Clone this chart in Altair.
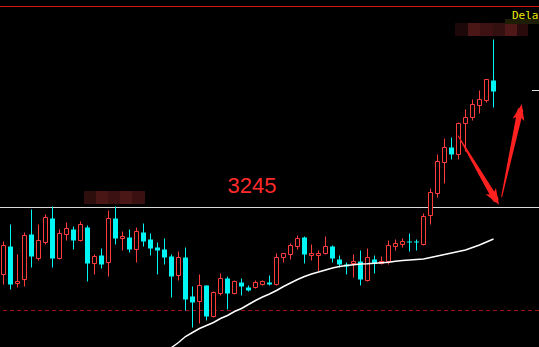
import altair as alt
import pandas as pd

# Daily OHLC, oldest first
opens = [3178, 3206, 3169, 3173, 3218, 3194, 3210, 3234, 3194, 3218,
         3223, 3212, 3225, 3189, 3197, 3190, 3234, 3214, 3215, 3203,
         3220, 3213, 3205, 3203, 3196, 3177, 3195, 3156, 3151, 3167,
         3136, 3159, 3174, 3159, 3170, 3165, 3165, 3168, 3170, 3168,
         3195, 3198, 3206, 3215, 3197, 3197, 3199, 3206, 3193, 3188,
         3189, 3191, 3172, 3193, 3189, 3191, 3206, 3208, 3211, 3211,
         3208, 3237, 3259, 3290, 3305, 3298, 3329, 3335, 3347, 3352,
         3372]
highs = [3211, 3228, 3198, 3220, 3243, 3228, 3238, 3246, 3223, 3230,
         3226, 3231, 3227, 3198, 3204, 3242, 3246, 3221, 3223, 3225,
         3229, 3219, 3210, 3214, 3198, 3201, 3205, 3166, 3178, 3167,
         3161, 3179, 3176, 3172, 3174, 3167, 3172, 3172, 3177, 3199,
         3199, 3209, 3217, 3216, 3208, 3202, 3216, 3207, 3197, 3190,
         3198, 3202, 3204, 3197, 3196, 3212, 3213, 3214, 3219, 3213,
         3239, 3264, 3298, 3314, 3315, 3330, 3343, 3353, 3362, 3373,
         3413]
lows = [3168, 3163, 3165, 3166, 3185, 3192, 3208, 3185, 3193, 3212,
        3203, 3211, 3171, 3178, 3184, 3176, 3208, 3202, 3200, 3190,
        3206, 3197, 3178, 3188, 3155, 3172, 3142, 3125, 3129, 3132,
        3135, 3157, 3143, 3158, 3157, 3161, 3164, 3167, 3167, 3167,
        3190, 3193, 3203, 3189, 3192, 3181, 3198, 3190, 3185, 3178,
        3175, 3167, 3171, 3179, 3188, 3188, 3202, 3205, 3201, 3202,
        3207, 3228, 3255, 3269, 3293, 3293, 3301, 3332, 3339, 3350,
        3345]
closes = [3207, 3168, 3171, 3217, 3196, 3212, 3235, 3194, 3219, 3224,
          3212, 3228, 3189, 3196, 3188, 3234, 3214, 3216, 3203, 3221,
          3211, 3204, 3202, 3195, 3176, 3195, 3153, 3150, 3167, 3136,
          3160, 3174, 3159, 3171, 3166, 3162, 3170, 3171, 3168, 3195,
          3199, 3207, 3214, 3198, 3199, 3199, 3206, 3194, 3188, 3186,
          3191, 3173, 3195, 3189, 3191, 3207, 3209, 3211, 3210, 3210,
          3236, 3260, 3291, 3305, 3298, 3329, 3335, 3348, 3353, 3373,
          3361]

# Moving average, available from bar 23 onward
ma_first = 23
ma_values = [3100.5, 3105, 3110, 3116, 3120, 3124, 3127, 3130, 3134, 3137,
             3141, 3144, 3148, 3152, 3155.5, 3158.5, 3162, 3166, 3169.5, 3173,
             3176, 3178.5, 3180.5, 3182.5, 3184.5, 3186, 3187, 3187.7, 3188.5, 3188.7,
             3189.2, 3189.7, 3190.3, 3191.2, 3192, 3192.5, 3193, 3193.5, 3195, 3196.5,
             3198, 3199.5, 3201, 3202.5, 3205, 3207.5, 3210.5, 3213.5]

# Horizontal price levels
level_price = 3245
top_price = 3446
stop_price = 3142
last_mark_price = 3362

# Hand-drawn arrows: shaft start/end (bar index, price) and head angle
arrow_ids = ["down", "down", "up", "up"]
arrow_i = [64.97, 70.27, 71.17, 73.81]
arrow_p = [3316.5, 3253.5, 3255.8, 3341.4]
arrow_w = [1, 6, 1, 6]
head_i = [70.2, 73.8]
head_p = [3254.5, 3340.5]
head_angle = [149, 12]

# Masked label patches (bar index span, price span, shade)
patch_i0 = [11.5, 13.21, 14.93, 16.64, 18.36, 64.5, 66.36, 68.07, 69.93, 71.64, 73.36, 71.64]
patch_i1 = [13.21, 14.93, 16.64, 18.36, 20.21, 66.36, 68.07, 69.93, 71.64, 73.36, 74.93, 76.5]
patch_p0 = [3248.5] * 5 + [3416.5] * 6 + [3428.5]
patch_p1 = [3261.5] * 5 + [3429.5] * 6 + [3433.5]
patch_c = ["#2e0d0d", "#4a1515", "#3c1111", "#4a1616", "#3a1010",
           "#1c0808", "#4a1616", "#3e1212", "#351010", "#4f1818", "#2a0b0b",
           "#1e1e05"]

RED = "#ff3c3c"
CYAN = "#00f5f5"

xscale = alt.Scale(domain=[-0.5, 76.5], zero=False, nice=False, padding=0)
yscale = alt.Scale(domain=[3105.5, 3452.5], zero=False, nice=False, padding=0)

n = len(opens)
candles = pd.DataFrame({"i": list(range(n)), "open": opens, "high": highs,
                        "low": lows, "close": closes})
candles["dir"] = ["up" if c >= o else "down" for o, c in zip(opens, closes)]

ma = pd.DataFrame({"i": list(range(ma_first, ma_first + len(ma_values))), "ma": ma_values})

X = alt.X("i:Q", scale=xscale, axis=None)

patches = alt.Chart(pd.DataFrame({"i0": patch_i0, "i1": patch_i1, "p0": patch_p0,
                                  "p1": patch_p1, "c": patch_c})).mark_rect().encode(
    x=alt.X("i0:Q", scale=xscale, axis=None), x2="i1:Q",
    y=alt.Y("p0:Q", scale=yscale, axis=None), y2="p1:Q",
    color=alt.Color("c:N", scale=None),
)

white_line = alt.Chart(pd.DataFrame({"p": [level_price]})).mark_rule(
    color="#d9d9d9", strokeWidth=1).encode(y=alt.Y("p:Q", scale=yscale, axis=None))
top_line = alt.Chart(pd.DataFrame({"p": [top_price]})).mark_rule(
    color="#d41515", strokeWidth=1).encode(y=alt.Y("p:Q", scale=yscale, axis=None))
stop_line = alt.Chart(pd.DataFrame({"p": [stop_price]})).mark_rule(
    color="#a01010", strokeWidth=1, strokeDash=[4, 3]).encode(
    y=alt.Y("p:Q", scale=yscale, axis=None))
last_tick = alt.Chart(pd.DataFrame({"i0": [75.5], "i1": [76.5], "p": [last_mark_price]})).mark_rule(
    color="#e0e0e0", strokeWidth=1).encode(
    x=alt.X("i0:Q", scale=xscale, axis=None), x2="i1:Q",
    y=alt.Y("p:Q", scale=yscale, axis=None))

base = alt.Chart(candles)
wicks = base.mark_rule(strokeWidth=1).encode(
    x=X,
    y=alt.Y("high:Q", scale=yscale, axis=None), y2="low:Q",
    color=alt.Color("dir:N", scale=alt.Scale(domain=["up", "down"], range=[RED, CYAN]), legend=None),
)
up_bodies = base.transform_filter("datum.dir == 'up'").mark_bar(
    size=4, fill="black", stroke=RED, strokeWidth=1).encode(
    x=X, y=alt.Y("open:Q", scale=yscale, axis=None), y2="close:Q")
down_bodies = base.transform_filter("datum.dir == 'down'").mark_bar(
    size=5, color=CYAN).encode(
    x=X, y=alt.Y("open:Q", scale=yscale, axis=None), y2="close:Q")

ma_line = alt.Chart(ma).mark_line(color="white", strokeWidth=1.5, clip=True).encode(
    x=X, y=alt.Y("ma:Q", scale=yscale, axis=None))

shafts = alt.Chart(pd.DataFrame({"a": arrow_ids, "i": arrow_i, "p": arrow_p, "w": arrow_w})).mark_trail(
    color="#ff2020").encode(
    x=X, y=alt.Y("p:Q", scale=yscale, axis=None),
    size=alt.Size("w:Q", scale=None, legend=None), detail="a:N")
heads = alt.Chart(pd.DataFrame({"i": head_i, "p": head_p, "ang": head_angle})).mark_point(
    shape="M0,-1L0.75,1L0,0.5L-0.75,1Z", filled=True, size=256, color="#ff2020", opacity=1).encode(
    x=X, y=alt.Y("p:Q", scale=yscale, axis=None), angle=alt.Angle("ang:Q", scale=None))

level_text = alt.Chart(pd.DataFrame({"i": [35.5], "p": [3259.5], "t": [str(level_price)]})).mark_text(
    font="Liberation Sans", fontSize=22, color="#ff2b2b", align="center", baseline="alphabetic").encode(
    x=X, y=alt.Y("p:Q", scale=yscale, axis=None), text="t:N")
delay_text = alt.Chart(pd.DataFrame({"i": [72.64], "p": [3433.5], "t": ["Delay"]})).mark_text(
    font="DejaVu Sans Mono", fontSize=11, color="#eaea00", align="left", baseline="alphabetic").encode(
    x=X, y=alt.Y("p:Q", scale=yscale, axis=None), text="t:N")

chart = alt.layer(
    patches, white_line, top_line, stop_line, last_tick,
    wicks, up_bodies, down_bodies, ma_line,
    shafts, heads, level_text, delay_text,
).properties(
    width=539, height=347, background="black", padding=0,
    autosize=alt.AutoSizeParams(type="none"),
).configure_view(stroke=None)

chart.save("out.html", embed_options={"renderer": "svg", "actions": False})
